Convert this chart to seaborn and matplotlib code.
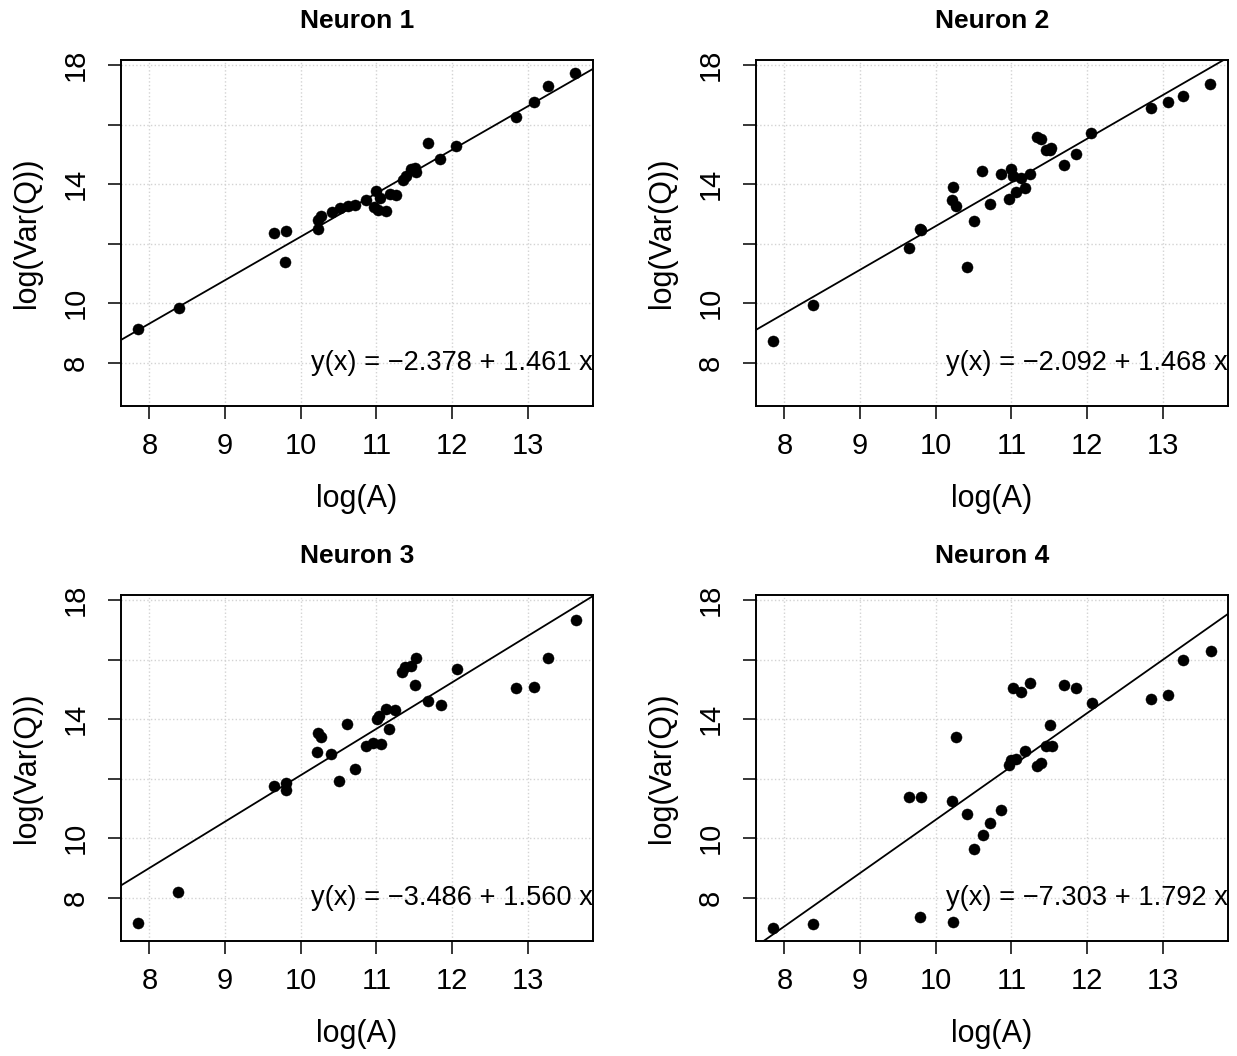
import matplotlib
matplotlib.use("Agg")
import matplotlib.pyplot as plt
import seaborn as sns
import pandas as pd

titles = ["Neuron 1", "Neuron 2", "Neuron 3", "Neuron 4"]
intercepts = [-2.378, -2.092, -3.486, -7.303]
slopes = [1.461, 1.468, 1.560, 1.792]

n1_x = [7.855, 8.384, 9.64, 9.80, 9.795, 10.227, 10.271, 10.227, 10.412, 10.513, 10.623,
        10.72, 10.866, 10.994, 10.963, 11.042, 11.02, 11.12, 11.175, 11.254, 11.351,
        11.395, 11.46, 11.51, 11.527, 11.68, 11.845, 12.056, 12.84, 13.08, 13.26, 13.626]
n1_y = [9.12, 9.82, 12.36, 12.42, 11.39, 12.78, 12.94, 12.48, 13.06, 13.20, 13.27,
        13.29, 13.45, 13.78, 13.22, 13.52, 13.13, 13.11, 13.67, 13.64, 14.12,
        14.26, 14.52, 14.54, 14.42, 15.38, 14.83, 15.27, 16.24, 16.76, 17.31, 17.74]

n2_x = [7.855, 8.38, 9.645, 9.79, 9.80, 10.41, 10.23, 10.22, 10.27, 10.50, 10.61,
        10.71, 10.86, 10.99, 10.97, 11.02, 11.06, 11.13, 11.18, 11.25, 11.34,
        11.39, 11.45, 11.52, 11.51, 11.69, 11.85, 12.05, 12.84, 13.07, 13.26, 13.62]
n2_y = [8.71, 9.94, 11.84, 12.49, 12.44, 11.21, 13.90, 13.47, 13.26, 12.75, 14.43,
        13.34, 14.33, 14.51, 13.51, 14.26, 13.72, 14.19, 13.87, 14.33, 15.58,
        15.52, 15.16, 15.22, 15.13, 14.65, 15.00, 15.70, 16.56, 16.76, 16.96, 17.36]

n3_x = [7.855, 8.38, 9.64, 9.80, 9.81, 10.23, 10.27, 10.22, 10.40, 10.50, 10.61,
        10.71, 10.86, 10.96, 11.06, 11.01, 11.03, 11.12, 11.17, 11.25, 11.34,
        11.38, 11.46, 11.52, 11.51, 11.68, 11.85, 12.06, 12.84, 13.08, 13.26, 13.63]
n3_y = [7.13, 8.19, 11.74, 11.84, 11.63, 13.54, 13.39, 12.89, 12.81, 11.91, 13.82,
        12.33, 13.09, 13.18, 13.16, 14.01, 14.10, 14.33, 13.65, 14.32, 15.57,
        15.76, 15.78, 16.06, 15.16, 14.61, 14.47, 15.69, 15.03, 15.08, 16.06, 17.33]

n4_x = [7.855, 8.38, 9.79, 9.645, 9.81, 10.23, 10.22, 10.27, 10.41, 10.51, 10.62,
        10.71, 10.86, 10.97, 10.99, 11.06, 11.02, 11.12, 11.18, 11.25, 11.34,
        11.39, 11.45, 11.53, 11.51, 11.69, 11.85, 12.06, 12.84, 13.07, 13.26, 13.63]
n4_y = [6.97, 7.10, 7.36, 11.39, 11.39, 7.19, 11.24, 13.39, 10.81, 9.63, 10.09,
        10.51, 10.93, 12.45, 12.64, 12.67, 15.03, 14.92, 12.94, 15.20, 12.42,
        12.53, 13.09, 13.11, 13.79, 15.13, 15.03, 14.55, 14.69, 14.80, 15.97, 16.29]

x_ticks = [8, 9, 10, 11, 12, 13]
y_ticks = [8, 10, 12, 14, 16, 18]
y_tick_labels = ["8", "10", "", "14", "", "18"]

panels = [(n1_x, n1_y), (n2_x, n2_y), (n3_x, n3_y), (n4_x, n4_y)]

sns.set_theme(style="white")
plt.rcParams["font.family"] = ["Liberation Sans", "DejaVu Sans"]
plt.rcParams["text.color"] = "black"
plt.rcParams["axes.labelcolor"] = "black"
plt.rcParams["xtick.color"] = "black"
plt.rcParams["ytick.color"] = "black"

# shared ranges like R's default 4% extension
all_x = n1_x + n2_x + n3_x + n4_x
all_y = n1_y + n2_y + n3_y + n4_y
xr = max(all_x) - min(all_x)
yr = max(all_y) - min(all_y)
xlim = (min(all_x) - 0.04 * xr, max(all_x) + 0.04 * xr)
ylim = (min(all_y) - 0.04 * yr, max(all_y) + 0.04 * yr)

fig = plt.figure(figsize=(12.37, 10.56), dpi=100)
W, H = 1237, 1056
boxes = [(121, 60), (756, 60), (121, 595), (756, 595)]

for i, (xs, ys) in enumerate(panels):
    left, top = boxes[i]
    ax = fig.add_axes([left / W, 1 - (top + 346) / H, 472 / W, 346 / H])
    df = pd.DataFrame({"logA": xs, "logVarQ": ys})
    sns.scatterplot(data=df, x="logA", y="logVarQ", ax=ax, color="black",
                    s=64, edgecolor="black", linewidth=0.3, zorder=3)
    ax.axline((0, intercepts[i]), slope=slopes[i], color="black", lw=1.3, zorder=2)
    ax.set_xlim(xlim)
    ax.set_ylim(ylim)
    ax.set_xticks(x_ticks)
    ax.set_yticks(y_ticks)
    ax.set_xticklabels([str(t) for t in x_ticks], fontsize=21)
    ax.set_yticklabels(y_tick_labels, fontsize=21, rotation=90, va="center")
    ax.tick_params(axis="both", direction="out", length=9.5, width=1.1, color="black",
                   left=True, bottom=True)
    ax.tick_params(axis="x", pad=9)
    ax.tick_params(axis="y", pad=13)
    ax.grid(True, color="lightgray", linestyle=":", linewidth=1.0)
    ax.set_axisbelow(True)
    for sp in ax.spines.values():
        sp.set_color("black")
        sp.set_linewidth(1.4)
    ax.set_title(titles[i], fontsize=19, fontweight="bold", pad=23)
    ax.set_xlabel("log(A)", fontsize=22)
    ax.set_ylabel("log(Var(Q))", fontsize=22)
    ax.xaxis.set_label_coords(0.5, -0.225)
    ax.yaxis.set_label_coords(-0.168, 0.5)
    ax.text(xlim[1], 8, f"y(x) = \u2212{abs(intercepts[i]):.3f} + {slopes[i]:.3f} x",
            ha="right", va="center", fontsize=19.6, zorder=4)

fig.savefig("out.png", dpi=100)
